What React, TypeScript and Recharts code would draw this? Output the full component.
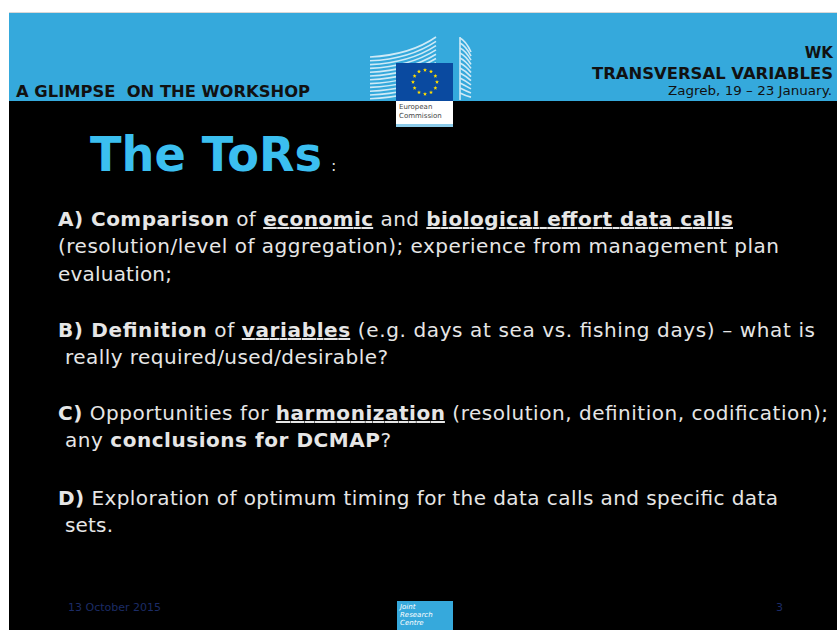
import React from "react";
import { ComposedChart, Customized } from "recharts";

type Seg = { t: string; b?: boolean; u?: boolean };

const headerLeft = "A GLIMPSE  ON THE WORKSHOP";
const headerRight = ["WK", "TRANSVERSAL VARIABLES"];
const headerPlace = "Zagreb, 19 – 23 January.";
const logoText = ["European", "Commission"];
const jrcText = ["Joint", "Research", "Centre"];
const title = "The ToRs";
const footerDate = "13 October 2015";
const pageNumber = "3";

const paraA: Seg[][] = [
  [
    { t: "A) Comparison", b: true },
    { t: " of " },
    { t: "economic", b: true, u: true },
    { t: " and " },
    { t: "biological effort data calls", b: true, u: true },
  ],
  [{ t: "(resolution/level of aggregation); experience from management plan" }],
  [{ t: "evaluation;" }],
];
const paraB: Seg[][] = [
  [
    { t: "B) Definition", b: true },
    { t: " of " },
    { t: "variables", b: true, u: true },
    { t: " (e.g. days at sea vs. fishing days) – what is" },
  ],
  [{ t: "really required/used/desirable?" }],
];
const paraC: Seg[][] = [
  [
    { t: "C)", b: true },
    { t: " Opportunities for " },
    { t: "harmonization", b: true, u: true },
    { t: " (resolution, definition, codification);" },
  ],
  [{ t: "any " }, { t: "conclusions for DCMAP", b: true }, { t: "?" }],
];
const paraD: Seg[][] = [
  [{ t: "D)", b: true }, { t: " Exploration of optimum timing for the data calls and specific data" }],
  [{ t: "sets." }],
];
const paragraphs = [paraA, paraB, paraC, paraD];

// layout (style, not data)
const paraTop = [226, 337, 420, 505];
const lineGap = 27.3;
const lineWidths = [
  [675, 721, 114],
  [757, 323],
  [770, 326],
  [720, 48],
];

const FONT = "'DejaVu Sans', Verdana, sans-serif";

function Slide() {
  const stars = Array.from({ length: 12 }, (_, i) => {
    const a = (i / 12) * Math.PI * 2;
    return { x: 425 + 12 * Math.cos(a), y: 82 + 12 * Math.sin(a) };
  });
  const starPath = (cx: number, cy: number, r: number) => {
    let d = "";
    for (let k = 0; k < 10; k++) {
      const rr = k % 2 === 0 ? r : r * 0.45;
      const a = -Math.PI / 2 + (k * Math.PI) / 5;
      d += (k === 0 ? "M" : "L") + (cx + rr * Math.cos(a)).toFixed(2) + "," + (cy + rr * Math.sin(a)).toFixed(2);
    }
    return d + "Z";
  };
  return (
    <g>
      <rect x={0} y={0} width={837} height={630} fill="#ffffff" />
      <rect x={9} y={12} width={830} height={620} fill="#d8d8d8" />
      <rect x={9} y={13} width={830} height={88} fill="#35a9dc" />
      <rect x={9} y={101} width={830} height={530} fill="#000000" />

      {/* building logo */}
      <g stroke="#eaf6fc" strokeWidth={1.6} fill="none" opacity={0.85}>
        {Array.from({ length: 12 }, (_, i) => (
          <path key={"l" + i} d={`M370,${57 + i * 3.8} Q410,${55 + i * 3.8} 436,${37 + i * 4.3}`} />
        ))}
        {Array.from({ length: 12 }, (_, i) => (
          <path key={"r" + i} d={`M460,${38 + i * 5} Q466,${41 + i * 5} 471,${52 + i * 4.1}`} />
        ))}
        <path d="M460,37 L460,100" />
      </g>
      <rect x={396} y={63} width={57} height={38} fill="#0a4aa0" />
      {stars.map((s, i) => (
        <path key={i} d={starPath(s.x, s.y, 2.1)} fill="#ffdd00" />
      ))}
      <rect x={396} y={101} width={57} height={25} fill="#ffffff" />
      <rect x={396} y={124} width={57} height={3} fill="#8ccbe9" />
      {logoText.map((t, i) => (
        <text key={t} x={399} y={109 + i * 9} fontSize={7} fill="#444" fontFamily={FONT}>
          {t}
        </text>
      ))}

      {/* header texts */}
      <text x={16} y={97} fontSize={16} fontWeight="bold" fill="#111" fontFamily={FONT} textLength={294} lengthAdjust="spacingAndGlyphs" style={{ whiteSpace: "pre" }}>
        {headerLeft}
      </text>
      <text x={833} y={58} fontSize={15} fontWeight="bold" fill="#111" fontFamily={FONT} textAnchor="end">
        {headerRight[0]}
      </text>
      <text x={592} y={79} fontSize={15} fontWeight="bold" fill="#111" fontFamily={FONT} textLength={241} lengthAdjust="spacingAndGlyphs">
        {headerRight[1]}
      </text>
      <text x={668} y={95} fontSize={13} fill="#111" fontFamily={FONT} textLength={164} lengthAdjust="spacingAndGlyphs">
        {headerPlace}
      </text>

      {/* title */}
      <text x={90} y={171} fontSize={48} fontWeight="bold" fill="#3bbff0" fontFamily={FONT} textLength={232} lengthAdjust="spacingAndGlyphs">
        {title}
      </text>
      <text x={331} y={171} fontSize={16} fill="#dddddd" fontFamily={FONT}>
        :
      </text>

      {/* body */}
      {paragraphs.map((para, pi) =>
        para.map((line, li) => (
          <text
            key={pi + "-" + li}
            x={li === 0 ? 58 : pi === 0 ? 58 : 65}
            y={paraTop[pi] + li * lineGap}
            fontSize={20}
            fill="#e6e6e6"
            fontFamily={FONT}
            textLength={lineWidths[pi][li]}
            lengthAdjust="spacing"
            style={{ whiteSpace: "pre" }}
          >
            {line.map((s, si) => (
              <tspan key={si} fontWeight={s.b ? "bold" : "normal"} textDecoration={s.u ? "underline" : undefined}>
                {s.t}
              </tspan>
            ))}
          </text>
        ))
      )}

      {/* footer */}
      <text x={68} y={611} fontSize={11} fill="#1c2c66" fontFamily={FONT}>
        {footerDate}
      </text>
      <text x={776} y={611} fontSize={11} fill="#1c2c66" fontFamily={FONT}>
        {pageNumber}
      </text>
      <rect x={397} y={601} width={56} height={30} fill="#36a9dc" />
      {jrcText.map((t, i) => (
        <text key={t} x={400} y={609 + i * 8} fontSize={7} fontStyle="italic" fill="#ffffff" fontFamily={FONT}>
          {t}
        </text>
      ))}
    </g>
  );
}

export default function App() {
  return (
    <div style={{ position: "fixed", left: 0, top: 0, width: 837, height: 630, overflow: "hidden" }}>
      <ComposedChart width={837} height={630} data={[]} margin={{ top: 0, right: 0, bottom: 0, left: 0 }}>
        <Customized component={Slide} />
      </ComposedChart>
    </div>
  );
}
